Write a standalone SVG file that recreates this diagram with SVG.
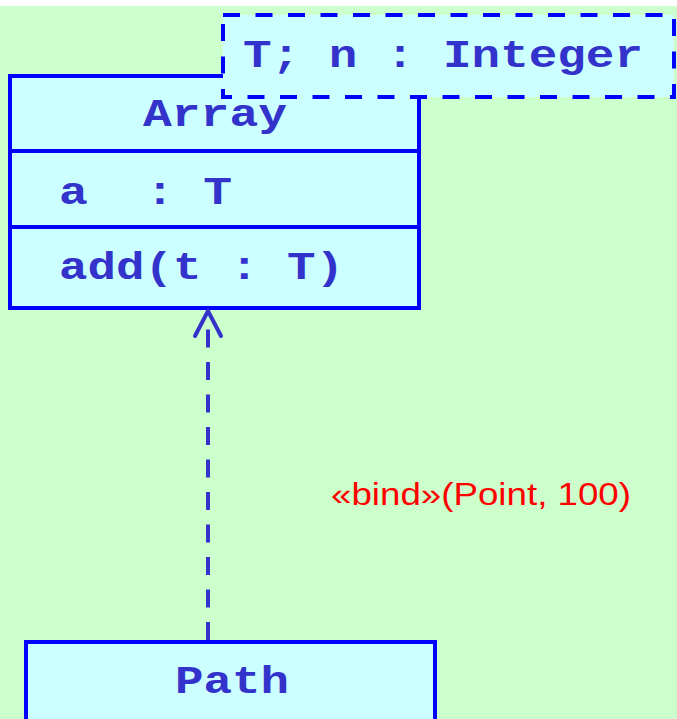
<svg xmlns="http://www.w3.org/2000/svg" width="677" height="719" viewBox="0 0 677 719">
  <style>
    .box { fill: #CCFFFF; stroke: #0000FF; stroke-width: 4; }
    .dashbox { fill: #CCFFFF; stroke: #0000FF; stroke-width: 4; stroke-dasharray: 17 15.5; }
    .div { stroke: #0000FF; stroke-width: 4; }
    .mono { font-family: "Liberation Mono", "Courier New", monospace; font-weight: bold; font-size: 39px; fill: #3333CC; white-space: pre; }
    .lbl { font-family: "Liberation Sans", Arial, sans-serif; font-size: 31px; fill: #FF0000; }
    .conn { stroke: #3333CC; stroke-width: 4; fill: none; }
  </style>
  <rect x="0" y="0" width="677" height="719" fill="#FFFFFF"/>
  <rect x="0" y="6" width="677" height="713" fill="#CCFFCC"/>

  <g id="node-array">
    <rect class="box" x="10" y="76" width="409" height="232"/>
    <line class="div" x1="10" y1="151" x2="419" y2="151"/>
    <line class="div" x1="10" y1="227" x2="419" y2="227"/>
    <text class="mono" x="143" y="126" textLength="144" lengthAdjust="spacingAndGlyphs">Array</text>
    <text class="mono" x="59" y="204" textLength="173" lengthAdjust="spacingAndGlyphs" xml:space="preserve">a  : T</text>
    <text class="mono" x="59" y="279" textLength="285" lengthAdjust="spacingAndGlyphs" xml:space="preserve">add(t : T)</text>
  </g>

  <g id="node-template-params">
    <rect class="dashbox" x="223" y="15" width="451" height="82"/>
    <text class="mono" x="243" y="67" textLength="400" lengthAdjust="spacingAndGlyphs" xml:space="preserve">T; n : Integer</text>
  </g>

  <g id="node-path">
    <rect class="box" x="26" y="642" width="409" height="100"/>
    <text class="mono" x="175" y="693" textLength="114" lengthAdjust="spacingAndGlyphs">Path</text>
  </g>

  <g id="connectors">
    <line class="conn" x1="208" y1="640" x2="208" y2="329" stroke-dasharray="18 14.5"/>
    <polyline class="conn" points="195,336 208,311 221,336" stroke-linecap="round" stroke-linejoin="round"/>
    <text class="lbl" x="331" y="505" textLength="300" lengthAdjust="spacingAndGlyphs">«bind»(Point, 100)</text>
  </g>
</svg>
